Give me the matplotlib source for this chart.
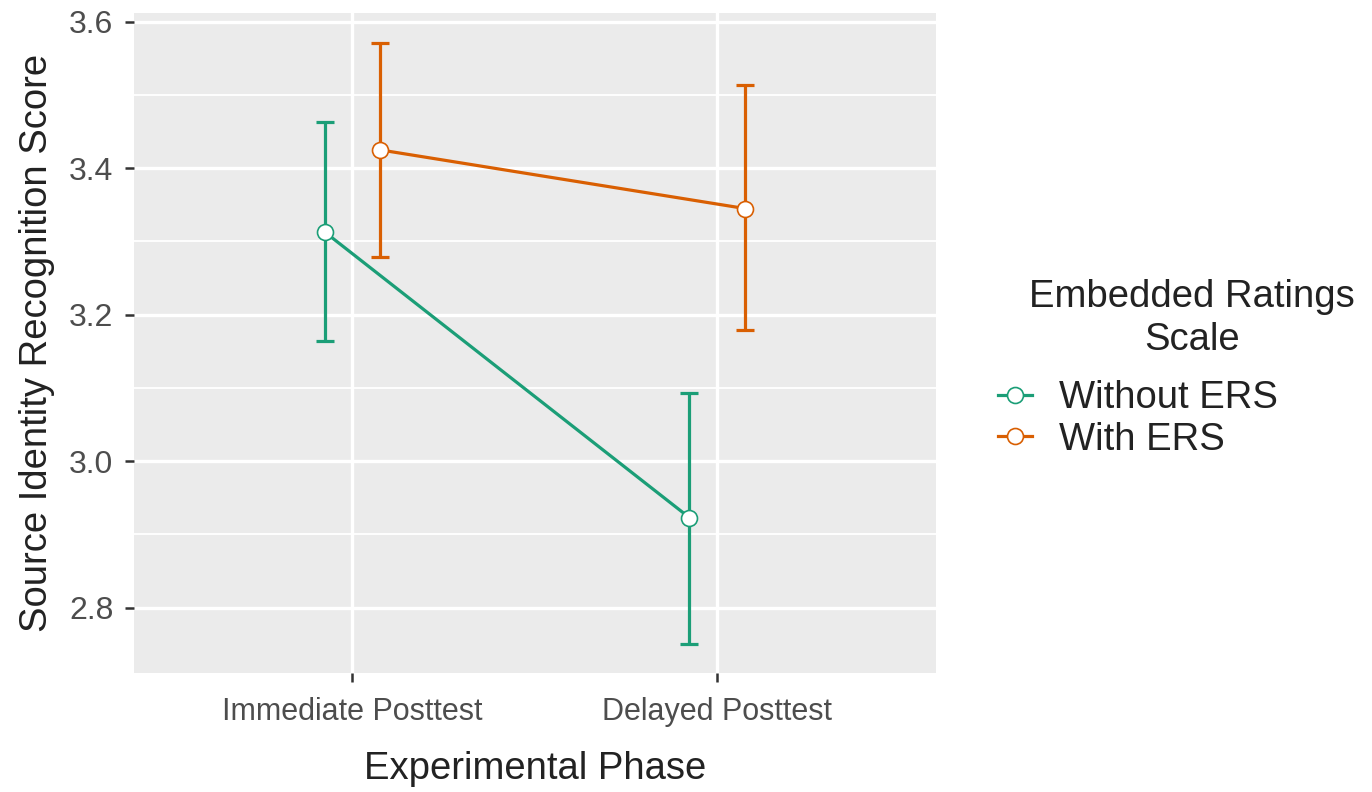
import matplotlib
matplotlib.use("Agg")
import matplotlib.pyplot as plt
from matplotlib.lines import Line2D
import numpy as np

phases = ["Immediate Posttest", "Delayed Posttest"]
groups = ["Without ERS", "With ERS"]
means = {"Without ERS": [3.313, 2.923], "With ERS": [3.425, 3.345]}
lower = {"Without ERS": [3.164, 2.751], "With ERS": [3.279, 3.179]}
upper = {"Without ERS": [3.463, 3.093], "With ERS": [3.571, 3.513]}
colors = {"Without ERS": "#1B9E77", "With ERS": "#D95F02"}
dodge = {"Without ERS": -0.076, "With ERS": 0.076}
yticks = [2.8, 3.0, 3.2, 3.4, 3.6]
yminor = [2.7, 2.9, 3.1, 3.3, 3.5]

plt.rcParams['font.family'] = ['Liberation Sans', 'DejaVu Sans']

W, H = 1372, 792
fig = plt.figure(figsize=(W / 100, H / 100), dpi=100)
ax = fig.add_axes([133.5 / W, 1 - 672.7 / H, (936 - 133.5) / W, (672.7 - 12.7) / H])
ax.set_facecolor("#EBEBEB")
for s in ax.spines.values():
    s.set_visible(False)

x = np.arange(1, len(phases) + 1)
ax.set_xlim(0.4, 2.6)
ax.set_ylim(2.7113, 3.6123)

for yv in yminor:
    ax.axhline(yv, color="white", lw=1.3, zorder=0.5)
for yv in yticks:
    ax.axhline(yv, color="white", lw=2.4, zorder=0.6)
for xv in x:
    ax.axvline(xv, color="white", lw=2.4, zorder=0.6)

LW = 2.3
for g in groups:
    xs = x + dodge[g]
    m = np.array(means[g])
    lo = m - np.array(lower[g])
    hi = np.array(upper[g]) - m
    ax.errorbar(xs, m, yerr=[lo, hi], fmt="none", ecolor=colors[g],
                elinewidth=LW, capsize=6.5, capthick=LW, zorder=2)
    ax.plot(xs, m, color=colors[g], lw=LW, zorder=3)
    ax.plot(xs, m, "o", ms=11.5, mfc="white", mec=colors[g], mew=1.2, zorder=4)

ax.set_xticks(x)
ax.set_xticklabels(phases)
ax.set_yticks(yticks)
ax.set_yticklabels([f"{v:.1f}" for v in yticks])
ax.tick_params(axis="both", length=6.5, width=1.8, color="#333333",
               labelcolor="#4D4D4D")
ax.tick_params(axis="y", labelsize=23, pad=8)
ax.tick_params(axis="x", labelsize=22, pad=11)

ax.set_xlabel("Experimental Phase", fontsize=27.5, color="#222222", labelpad=17)
ax.set_ylabel("Source Identity Recognition Score", fontsize=27.5, color="#222222",
              labelpad=10)

# legend
fig.text(1192 / W, 1 - 297 / H, "Embedded Ratings", ha="center", va="center",
         fontsize=27.5, color="#222222")
fig.text(1192 / W, 1 - 340 / H, "Scale", ha="center", va="center",
         fontsize=27.5, color="#222222")
handles = [Line2D([0], [0], color=colors[g], lw=LW, marker="o", ms=11.5,
                  mfc="white", mec=colors[g], mew=1.2) for g in groups]
leg = fig.legend(handles, groups, loc="upper left",
                 bbox_to_anchor=(998 / W, 1 - 380 / H), frameon=False,
                 fontsize=27.5, handlelength=0.9, handletextpad=0.7,
                 labelspacing=0.15, borderaxespad=0, borderpad=0)
for t in leg.get_texts():
    t.set_color("#222222")

fig.savefig("out.png", dpi=100)
